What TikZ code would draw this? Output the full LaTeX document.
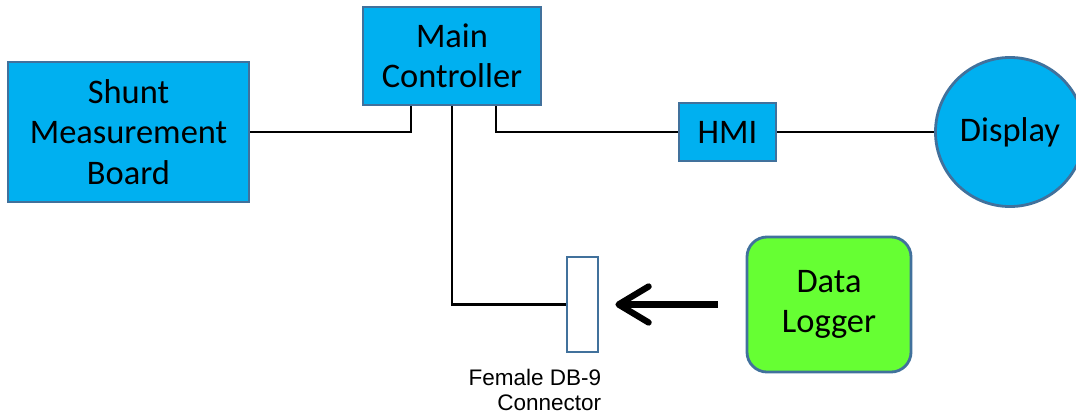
\documentclass[tikz,border=0pt]{standalone}
\usepackage{fontspec}
\setmainfont{Carlito}
\newfontfamily\labelfont{Liberation Sans}
\usetikzlibrary{arrows.meta,calc,positioning}

\definecolor{boxblue}{HTML}{00B0F0}
\definecolor{boxedge}{HTML}{41719C}
\definecolor{loggergreen}{HTML}{66FF33}

\tikzset{
    block/.style = {
        draw = boxedge,
        fill = boxblue,
        line width = 2pt,
        align = center,
        inner sep = 0pt,
        font = \fontsize{24.5}{28.6}\selectfont
    },
    wire/.style = {draw = black, line width = 1.5pt}
}

\begin{document}
\begin{tikzpicture}[x=0.025cm, y=-0.025cm]
            \useasboundingbox (0,0) rectangle (1076,414);
            \node[block, minimum width=6.025cm, minimum height=3.5cm] (shunt) at (128.5,132) {Shunt\\Measurement\\Board};
            \node[block, minimum width=4.45cm, minimum height=2.45cm] (main) at (452,56) {Main\\Controller};
            \node[block, minimum width=2.425cm, minimum height=1.45cm] (hmi) at (727.5,132) {HMI};
            \node[block, circle, minimum size=3.725cm] (disp) at (1010,132) {Display};
            \node[
                draw = boxedge,
                fill = white,
                line width = 2pt,
                minimum width = 0.775cm,
                minimum height = 2.375cm
            ] (conn) at (582.5,304.5) {};
            \node[
                block,
                fill = loggergreen,
                rounded corners = 0.5cm,
                minimum width = 4.1cm,
                minimum height = 3.375cm
            ] (logger) at (829,304.5) {Data\\Logger};
            \node[
                anchor = north east,
                inner sep = 0pt,
                align = right,
                font = \labelfont\fontsize{16}{18.4}\selectfont
            ] (connlabel) at ($(conn.south east)+(2,15)$) {Female DB-9\\Connector};

            \draw[wire] (shunt.east) -| ($(main.south)+(-41,0)$);
            \draw[wire] (main.south) |- (conn.west);
            \draw[wire] ($(main.south)+(44,0)$) |- (hmi.west);
            \draw[wire] (hmi.east) -- (disp.west);
            \draw[
                line width = 4.5pt,
                -{Straight Barb[length=0.75cm, width=0.9cm, round]}
            ] ($(logger.west)+(-28,0)$) -- ($(conn.east)+(16,0)$);
        \end{tikzpicture}
\end{document}
